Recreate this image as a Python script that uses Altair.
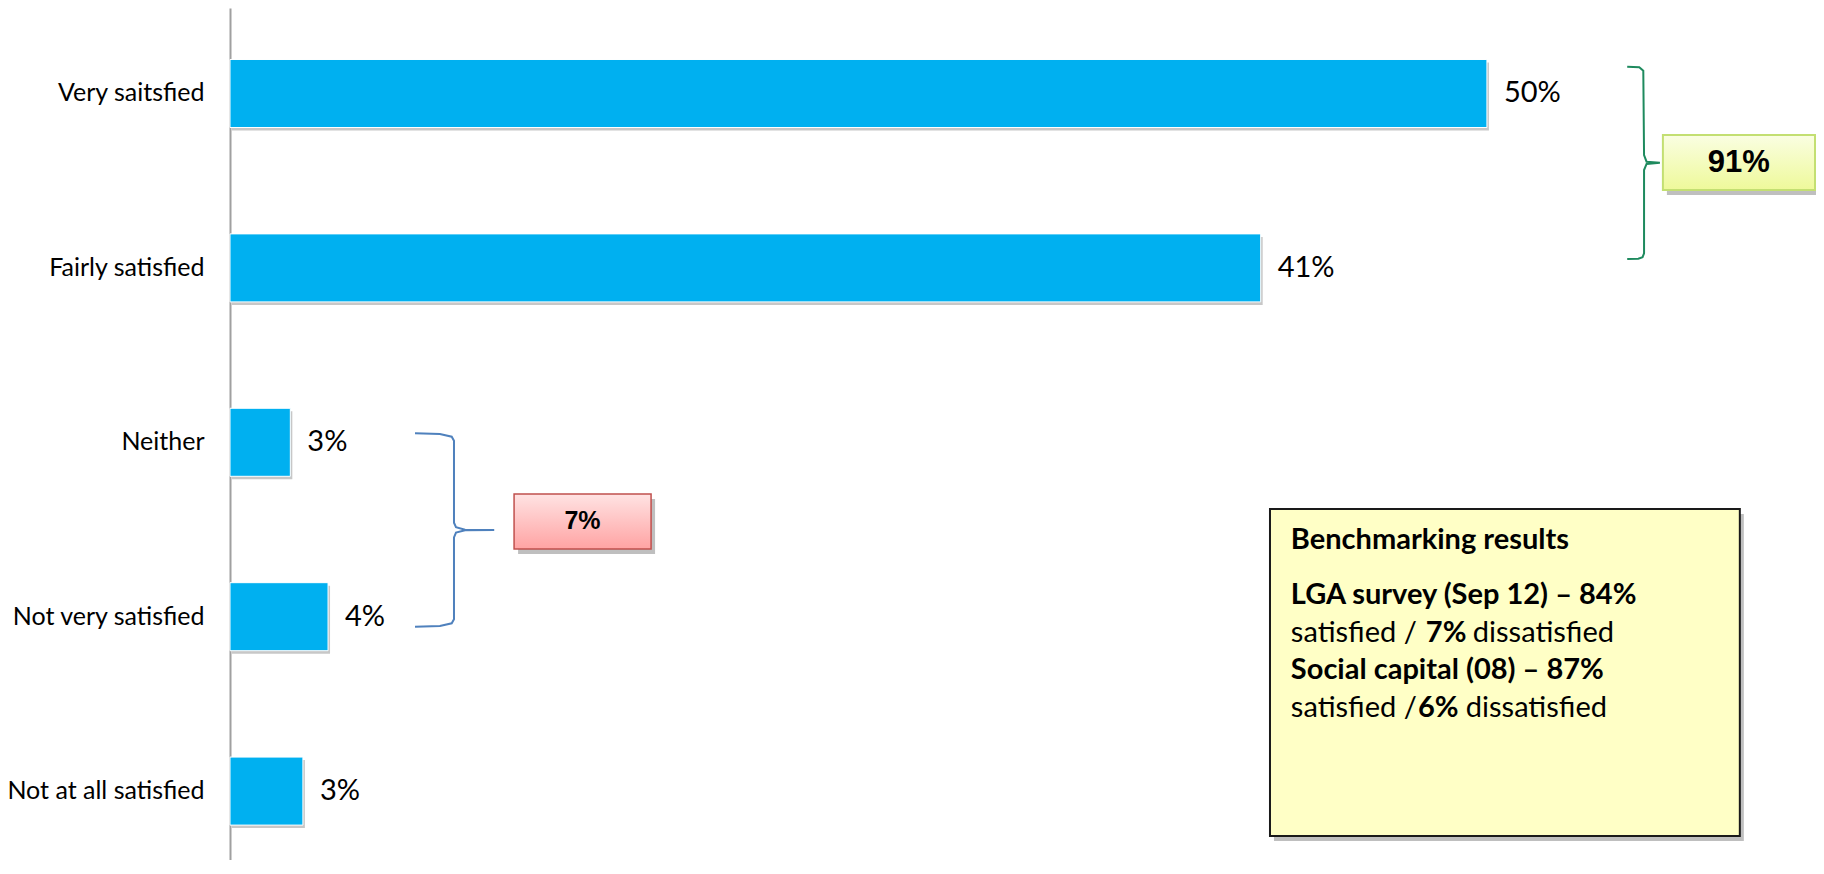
import altair as alt
import pandas as pd

# ---------------- data ----------------
categories = ["Very saitsfied", "Fairly satisfied", "Neither",
              "Not very satisfied", "Not at all satisfied"]
values = [50, 41, 2.4, 3.9, 2.9]
value_labels = ["50%", "41%", "3%", "4%", "3%"]

# curly brace (satisfied) in data units: x = percent, y = category index
green_brace_x = [55.58, 56.06, 56.22, 56.25, 56.35, 56.88, 56.35, 56.25, 56.25, 56.19, 56.02, 55.58]
green_brace_y = [-0.154, -0.150, -0.131, 0.353, 0.391, 0.397, 0.404, 0.439, 0.916, 0.939, 0.947, 0.949]

# curly brace (dissatisfied)
blue_brace_x = [7.36, 8.35, 8.82, 8.91, 8.91, 8.99, 9.35, 10.51, 9.35, 8.99, 8.91, 8.91, 8.82, 8.35, 7.36]
blue_brace_y = [1.948, 1.952, 1.968, 1.991, 2.461, 2.487, 2.501, 2.503, 2.505, 2.518, 2.545, 3.015, 3.038, 3.053, 3.057]

# summary boxes
sat_box = {"x": 57.0, "x2": 63.05, "y": 0.238, "y2": 0.553, "tx": 60.02, "ty": 0.396, "text": "91%"}
dis_box = {"x": 11.30, "x2": 16.75, "y": 2.296, "y2": 2.612, "tx": 14.02, "ty": 2.454, "text": "7%"}
bench_box = {"x": 41.37, "x2": 60.06, "y": 2.382, "y2": 4.258}

bench_text = ["Benchmarking results", "LGA survey (Sep 12) – 84%", "satisfied /", "7%", "dissatisfied",
              "Social capital (08) – 87%", "satisfied /", "6%", "dissatisfied"]
bench_x = [42.20, 42.20, 42.20, 47.57, 49.44, 42.20, 42.20, 47.26, 49.16]
bench_y = [2.560, 2.876, 3.094, 3.094, 3.094, 3.306, 3.524, 3.524, 3.524]
bench_bold = [True, True, False, True, False, True, False, True, False]

# ---------------- geometry ----------------
W, H = 1586, 852
PAD_IN, PAD_OUT, ALIGN = 0.61, 0.2477, 0.596
X_MAX = 63.09
n = len(categories)
step = H / (n - PAD_IN + 2 * PAD_OUT)
first_center = (H - step * (n - PAD_IN)) * ALIGN + step * (1 - PAD_IN) / 2
Y_DOM = [-first_center / step, (H - first_center) / step]

FONT = "Lato"
BAR_COLOR = "#00B0F0"

xscale = alt.Scale(domain=[0, X_MAX], nice=False, zero=False)
yq_scale = alt.Scale(domain=Y_DOM, nice=False, zero=False, reverse=True)

bars_df = pd.DataFrame({"cat": categories, "val": values, "lab": value_labels})

band = alt.Scale(type="band", paddingInner=PAD_IN, paddingOuter=PAD_OUT, align=ALIGN)
y_axis = alt.Axis(title=None, ticks=False, domain=True, domainColor="#A0A0A0", domainWidth=2,
                  labelFontSize=25, labelFont=FONT, labelColor="#000000", labelPadding=26,
                  labelLimit=0, grid=False)

base = alt.Chart(bars_df)
shadow = base.mark_bar(color="#000000", opacity=0.22, xOffset=2, x2Offset=3, yOffset=3, y2Offset=3).encode(
    x=alt.X("val:Q", scale=xscale, axis=None),
    y=alt.Y("cat:N", sort=categories, scale=band, axis=None),
)
bars = base.mark_bar(color=BAR_COLOR, stroke="#FFFFFF", strokeWidth=1).encode(
    x=alt.X("val:Q", scale=xscale, axis=None),
    y=alt.Y("cat:N", sort=categories, scale=band, axis=y_axis),
)
labels = base.mark_text(align="left", baseline="middle", dx=17, fontSize=29, font=FONT, color="#000000").encode(
    x=alt.X("val:Q", scale=xscale, axis=None),
    y=alt.Y("cat:N", sort=categories, scale=band, axis=None),
    text="lab:N",
)

def brace(xs, ys, color):
    df = pd.DataFrame({"px": xs, "py": ys, "ord": list(range(len(xs)))})
    return alt.Chart(df).mark_line(color=color, strokeWidth=2).encode(
        x=alt.X("px:Q", scale=xscale, axis=None),
        y=alt.Y("py:Q", scale=yq_scale, axis=None),
        order="ord:Q",
    )

def box(b, fill, stroke, strokeWidth=2, shadow_op=0.25):
    df = pd.DataFrame([b])
    enc = dict(
        x=alt.X("x:Q", scale=xscale, axis=None),
        x2="x2:Q",
        y=alt.Y("y:Q", scale=yq_scale, axis=None),
        y2="y2:Q",
    )
    sh = alt.Chart(df).mark_rect(color="#000000", opacity=shadow_op, xOffset=4, x2Offset=4,
                                 yOffset=5, y2Offset=5).encode(**enc)
    rc = alt.Chart(df).mark_rect(fill=fill, stroke=stroke, strokeWidth=strokeWidth).encode(**enc)
    return sh, rc

def box_text(b, size, font="Liberation Sans"):
    df = pd.DataFrame([b])
    return alt.Chart(df).mark_text(fontSize=size, font=font, fontWeight="bold", color="#000000",
                                   align="center", baseline="middle").encode(
        x=alt.X("tx:Q", scale=xscale, axis=None),
        y=alt.Y("ty:Q", scale=yq_scale, axis=None),
        text="text:N",
    )

green_grad = alt.LinearGradient(gradient="linear", x1=0, x2=0, y1=0, y2=1,
                                stops=[alt.GradientStop(color="#FAFEE2", offset=0),
                                       alt.GradientStop(color="#EEF99A", offset=1)])
red_grad = alt.LinearGradient(gradient="linear", x1=0, x2=0, y1=0, y2=1,
                              stops=[alt.GradientStop(color="#FFE3E3", offset=0),
                                     alt.GradientStop(color="#FFA3A3", offset=1)])

sat_sh, sat_rc = box(sat_box, green_grad, "#C3DF72", 2)
dis_sh, dis_rc = box(dis_box, red_grad, "#C0504D", 1.5)
ben_sh, ben_rc = box(bench_box, "#FFFFC6", "#1A1A1A", 2)

bench_df = pd.DataFrame({"t": bench_text, "x": bench_x, "y": bench_y, "bold": bench_bold})
bench_enc = dict(
    x=alt.X("x:Q", scale=xscale, axis=None),
    y=alt.Y("y:Q", scale=yq_scale, axis=None),
    text="t:N",
)
bench_bold_t = alt.Chart(bench_df).transform_filter("datum.bold").mark_text(
    align="left", baseline="middle", fontSize=29, font=FONT, fontWeight="bold", color="#000000"
).encode(**bench_enc)
bench_norm_t = alt.Chart(bench_df).transform_filter("!datum.bold").mark_text(
    align="left", baseline="middle", fontSize=29, font=FONT, color="#000000"
).encode(**bench_enc)

chart = alt.layer(
    shadow, bars, labels,
    brace(green_brace_x, green_brace_y, "#1E8A5E"),
    brace(blue_brace_x, blue_brace_y, "#4F81BD"),
    sat_sh, sat_rc, box_text(sat_box, 31),
    dis_sh, dis_rc, box_text(dis_box, 25),
    ben_sh, ben_rc, bench_bold_t, bench_norm_t,
).resolve_scale(y="independent").properties(
    width=W, height=H,
    background="#FFFFFF",
    autosize=alt.AutoSizeParams(type="none"),
    padding={"left": 222, "top": 0, "right": 0, "bottom": 0},
).configure_view(stroke=None, strokeWidth=0)

chart.save("out.html", embed_options={"renderer": "svg", "actions": False})
